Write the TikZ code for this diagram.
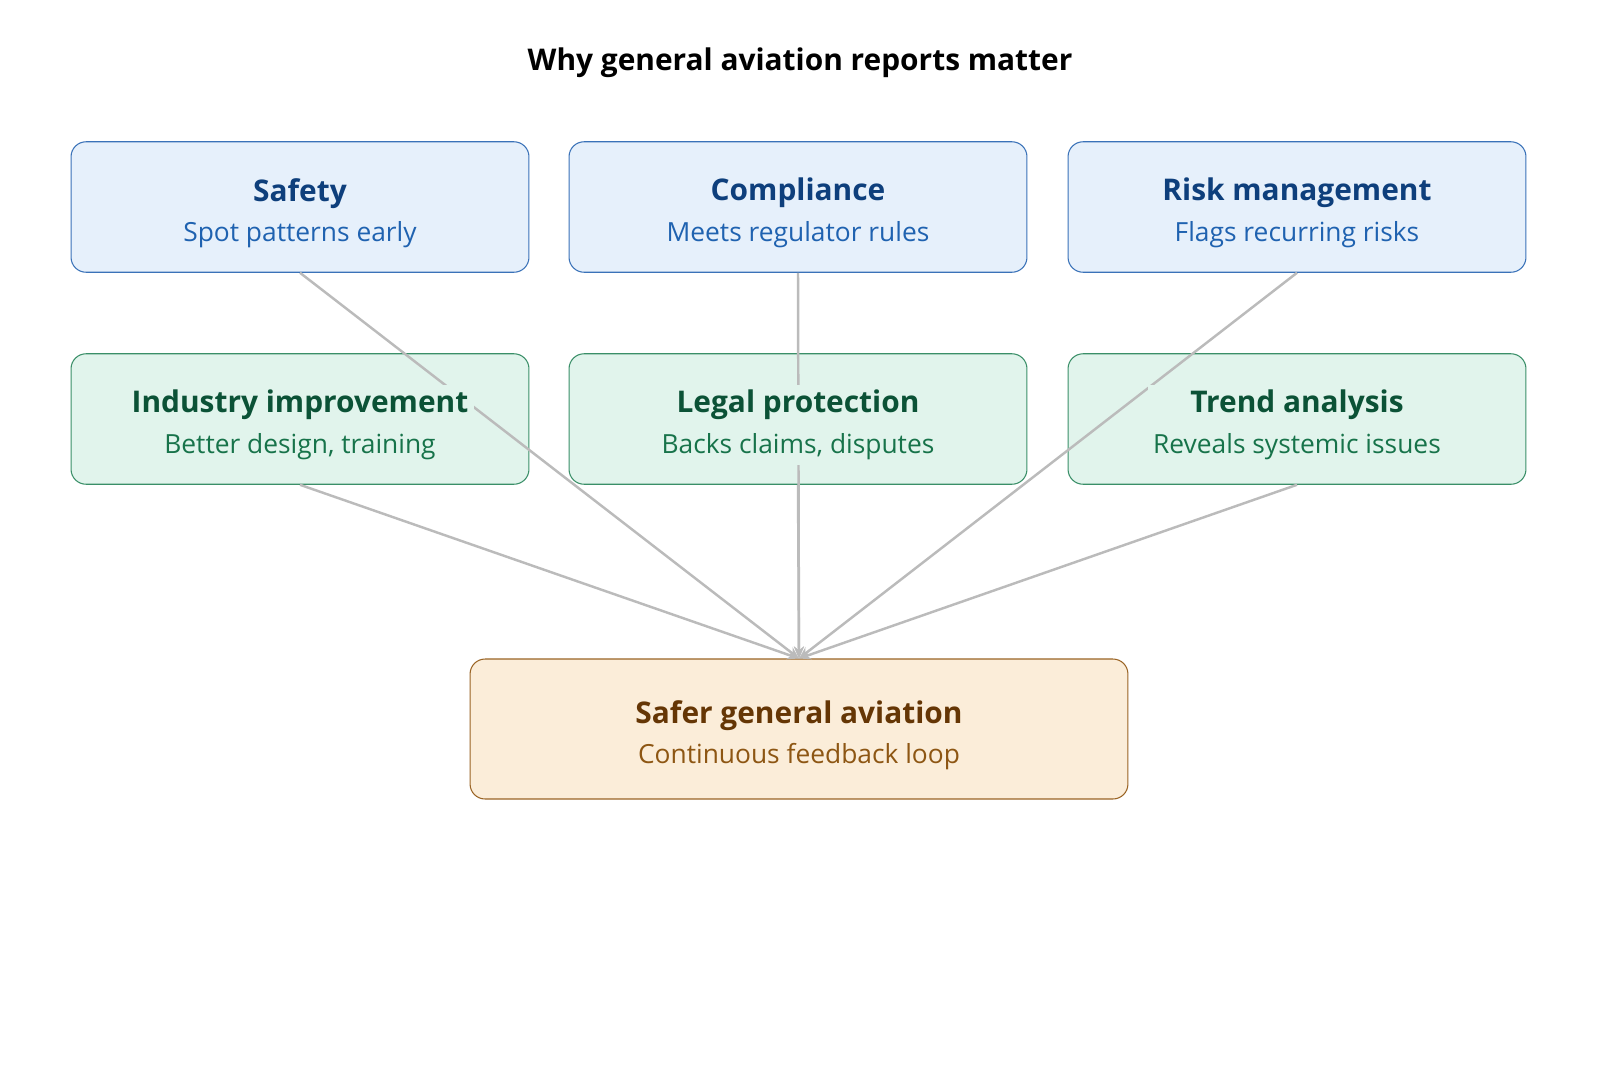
\documentclass[tikz,border=0pt]{standalone}
\usepackage{fontspec}
\setmainfont{Open Sans}
\usetikzlibrary{arrows.meta, positioning, backgrounds}
\pgfdeclarelayer{edges}
\pgfsetlayers{background,edges,main}
\definecolor{safebg}{HTML}{E6F0FB}
\definecolor{safeline}{HTML}{3A72B8}
\definecolor{safehead}{HTML}{0E3F7C}
\definecolor{safesub}{HTML}{1F62B0}
\definecolor{gainbg}{HTML}{E1F4EC}
\definecolor{gainline}{HTML}{3A8F68}
\definecolor{gainhead}{HTML}{0B5236}
\definecolor{gainsub}{HTML}{17734A}
\definecolor{goalbg}{HTML}{FBEDD9}
\definecolor{goalline}{HTML}{9A6424}
\definecolor{goalhead}{HTML}{653605}
\definecolor{goalsub}{HTML}{8D5613}
\definecolor{linkgray}{HTML}{BBBBBB}

\begin{document}
\begin{tikzpicture}[
    x=0.02cm, y=-0.02cm,
    card/.style={rounded corners=0.3cm, line width=0.6pt,
        minimum width=9.16cm, minimum height=2.61cm},
    topcard/.style={card, draw=safeline, fill=safebg},
    midcard/.style={card, draw=gainline, fill=gainbg},
    goalcard/.style={card, draw=goalline, fill=goalbg,
        minimum width=13.16cm, minimum height=2.8cm},
    cardtext/.style={fill=#1, inner sep=3pt, align=center, yshift=-0.12cm,
        font=\fontsize{15}{23}\selectfont},
    link/.style={-{Stealth[length=2.4mm, width=2mm]}, line width=1.4pt, draw=linkgray}
]
\useasboundingbox (0,0) rectangle (1600,1083);

% Heading
\node[font=\fontsize{17}{20}\selectfont\bfseries] (heading) at (800,63)
    {Why general aviation reports matter};

% Card frames
\begin{pgfonlayer}{background}
\node[topcard] (safety) at (300,207) {};
\node[topcard] (compliance) at (798,207) {};
\node[topcard] (risk) at (1297,207) {};
\node[midcard] (industry) at (300,419) {};
\node[midcard] (legal) at (798,419) {};
\node[midcard] (trend) at (1297,419) {};
\node[goalcard] (goal) at (799,729) {};
\end{pgfonlayer}

% Card texts
\node[cardtext=safebg] (safety-txt) at (safety)
    {{\fontsize{17}{23}\selectfont\bfseries\color{safehead}Safety}\\\color{safesub}Spot patterns early};
\node[cardtext=safebg] (compliance-txt) at (compliance)
    {{\fontsize{17}{23}\selectfont\bfseries\color{safehead}Compliance}\\\color{safesub}Meets regulator rules};
\node[cardtext=safebg] (risk-txt) at (risk)
    {{\fontsize{17}{23}\selectfont\bfseries\color{safehead}Risk management}\\\color{safesub}Flags recurring risks};
\node[cardtext=gainbg] (industry-txt) at (industry)
    {{\fontsize{17}{23}\selectfont\bfseries\color{gainhead}Industry improvement}\\\color{gainsub}Better design, training};
\node[cardtext=gainbg] (legal-txt) at (legal)
    {{\fontsize{17}{23}\selectfont\bfseries\color{gainhead}Legal protection}\\\color{gainsub}Backs claims, disputes};
\node[cardtext=gainbg] (trend-txt) at (trend)
    {{\fontsize{17}{23}\selectfont\bfseries\color{gainhead}Trend analysis}\\\color{gainsub}Reveals systemic issues};
\node[cardtext=goalbg] (goal-txt) at (goal)
    {{\fontsize{17}{23}\selectfont\bfseries\color{goalhead}Safer general aviation}\\\color{goalsub}Continuous feedback loop};

% Links into the goal
\begin{pgfonlayer}{edges}
\foreach \src in {safety, compliance, risk, industry, legal, trend}
    \draw[link] (\src.south) -- (goal.north);
\end{pgfonlayer}

\end{tikzpicture}
\end{document}
